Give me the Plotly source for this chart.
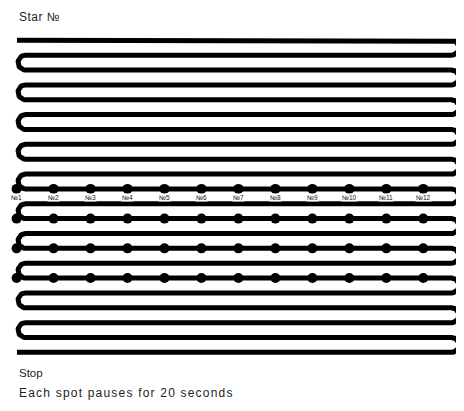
import numpy as np
import plotly.graph_objects as go

# ---- data ----
n_rows = 22                      # horizontal passes of the serpentine path
spot_rows = [10, 12, 14, 16]     # rows carrying pause spots
spot_cols = [0, 1, 2, 3, 4, 5, 6, 7, 8, 9, 10, 11]
spot_labels = ["№1", "№2", "№3", "№4", "№5", "№6", "№7", "№8", "№9", "№10", "№11", "№12"]
label_row = 10
start_text = "Star №"
stop_text = "Stop"
note_text = "Each spot pauses for 20 seconds"

# ---- geometry ----
OFF = 8                          # page body margin
W, H = 464 - OFF, 411 - OFF
px_x, px_y = 36.97, 14.86        # pixels per axis unit
x0 = -(16.6 - OFF) / px_x
y0 = -(40.3 - OFF) / px_y
x_range = [x0, x0 + W / px_x]
y_range = [y0 + H / px_y, y0]

def px2x(p):
    return x0 + (p - OFF) / px_x

x_left_end = px2x(17)
x_left_straight = px2x(25.5)
x_right_straight = px2x(451.6)
ry = 0.5
rx = ry * px_y / px_x

xs, ys = [], []
theta = np.linspace(0, np.pi, 25)
for r in range(n_rows):
    going_right = (r % 2 == 0)
    if r == 0:
        xs += [x_left_end, x_right_straight]
        ys += [r, r]
    elif going_right:
        xs += [x_right_straight]
        ys += [r]
    else:
        xs += [x_left_straight if r < n_rows - 1 else x_left_end]
        ys += [r]
    if r < n_rows - 1:
        if going_right:
            cx = x_right_straight
            xs += list(cx + rx * np.sin(theta))
        else:
            cx = x_left_straight
            xs += list(cx - rx * np.sin(theta))
        ys += list(r + ry - ry * np.cos(theta))

fig = go.Figure()
fig.add_trace(go.Scatter(x=xs, y=ys, mode="lines",
                         line=dict(color="black", width=5),
                         hoverinfo="skip", showlegend=False))

dx, dy = [], []
for r in spot_rows:
    for c in spot_cols:
        dx.append(c)
        dy.append(r)
fig.add_trace(go.Scatter(x=dx, y=dy, mode="markers",
                         marker=dict(color="black", size=10, symbol="circle"),
                         hoverinfo="skip", showlegend=False))

for c, lab in zip(spot_cols, spot_labels):
    fig.add_annotation(x=c, y=label_row + 0.55, text=lab, showarrow=False,
                       font=dict(size=6.5, color="#111", family="Liberation Sans, Arial"),
                       bgcolor="white", borderpad=0)

def spaced(t, ls):
    return '<span style="letter-spacing:%spx">%s</span>' % (ls, t)

txt_font = dict(size=12, color="#222", family="Liberation Sans, Arial")
fig.add_annotation(x=x_left_end, y=-1.55, text=spaced(start_text, 0.5), showarrow=False,
                   xanchor="left", font=txt_font)
fig.add_annotation(x=x_left_end, y=22.4, text=stop_text, showarrow=False,
                   xanchor="left", font=dict(size=11.5, color="#222", family="Liberation Sans, Arial"))
fig.add_annotation(x=x_left_end, y=23.75, text=spaced(note_text, 1.2), showarrow=False,
                   xanchor="left", font=txt_font)

fig.update_layout(width=W, height=H, margin=dict(l=0, r=0, t=0, b=0),
                  plot_bgcolor="white", paper_bgcolor="white")
fig.update_xaxes(range=x_range, visible=False, fixedrange=True)
fig.update_yaxes(range=y_range, visible=False, fixedrange=True)
fig.write_html("out.html", config={"displayModeBar": False})
